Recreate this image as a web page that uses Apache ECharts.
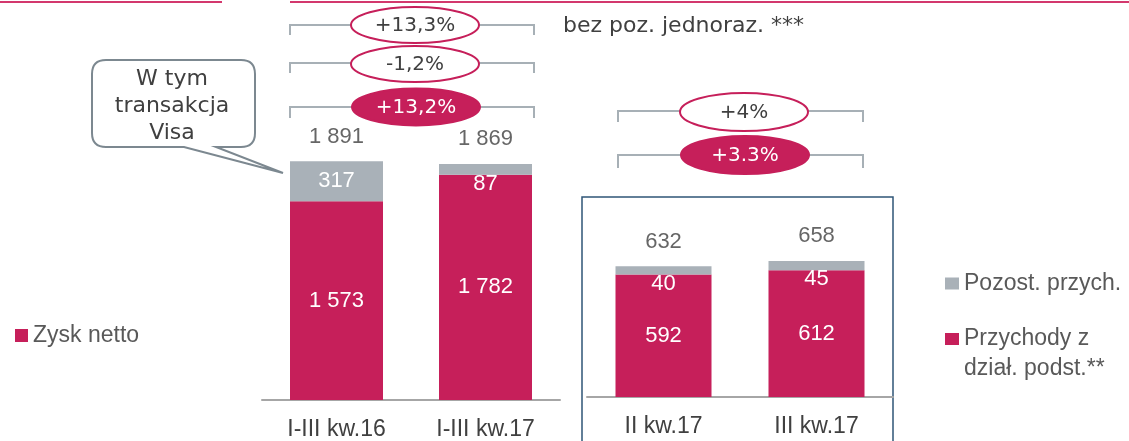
<!DOCTYPE html>
<html>
<head>
<meta charset="utf-8">
<script src="https://cdn.jsdelivr.net/npm/echarts@6/dist/echarts.min.js"></script>
<style>
  html, body { margin: 0; padding: 0; background: #fff; }
  #chart { width: 1129px; height: 441px; }
</style>
</head>
<body>
<div id="chart"></div>
<script>
// I-III kwartał (ytd)
var categoriesYtd = ['I-III kw.16', 'I-III kw.17'];
var netProfitYtd = [1573, 1782];
var oneOffYtd = [317, 87];
var totalsYtd = [1891, 1869];
var changesYtd = ['+13,3%', '-1,2%', '+13,2%'];

// kwartały
var categoriesQ = ['II kw.17', 'III kw.17'];
var coreIncomeQ = [592, 612];
var otherIncomeQ = [40, 45];
var totalsQ = [632, 658];
var changesQ = ['+4%', '+3.3%'];

var RED = '#c61f5a';
var GREY = '#a9b1b8';
var TXT = '#404040';
var NUM_FONT = '"Liberation Sans", Arial, sans-serif';
var DECO_FONT = '"DejaVu Sans", sans-serif';

// kształty do adnotacji (dymek + owal)
echarts.graphic.registerShape('calloutBox', echarts.graphic.extendPath(
  'M106 60 L241 60 Q255 60 255 74 L255 133 Q255 147 241 147 L216 147 L283 173 L184 147 L106 147 Q92 147 92 133 L92 74 Q92 60 106 60 Z'
));
echarts.graphic.registerShape('oval', echarts.graphic.extendShape({
  shape: { cx: 0, cy: 0, rx: 0, ry: 0 },
  buildPath: function (ctx, s) {
    var k = 0.5522848;
    var ox = s.rx * k, oy = s.ry * k;
    ctx.moveTo(s.cx - s.rx, s.cy);
    ctx.bezierCurveTo(s.cx - s.rx, s.cy - oy, s.cx - ox, s.cy - s.ry, s.cx, s.cy - s.ry);
    ctx.bezierCurveTo(s.cx + ox, s.cy - s.ry, s.cx + s.rx, s.cy - oy, s.cx + s.rx, s.cy);
    ctx.bezierCurveTo(s.cx + s.rx, s.cy + oy, s.cx + ox, s.cy + s.ry, s.cx, s.cy + s.ry);
    ctx.bezierCurveTo(s.cx - ox, s.cy + s.ry, s.cx - s.rx, s.cy + oy, s.cx - s.rx, s.cy);
    ctx.closePath();
  }
}));

function fmt(v) {
  return String(v).replace(/\B(?=(\d{3})+(?!\d))/g, ' ');
}

// small grey segments get their label just below the segment
function greyItems(vals, totals) {
  return vals.map(function (v, i) {
    if (v / totals[i] < 0.1) {
      return { value: v, label: { position: 'bottom', distance: -2 } };
    }
    return v;
  });
}

function bracket(x1, x2, y, drop) {
  return {
    type: 'polyline',
    shape: { points: [[x1, y + drop], [x1, y], [x2, y], [x2, y + drop]] },
    style: { stroke: '#a7b0b6', lineWidth: 2, fill: null },
    z: 10
  };
}

function bubble(cx, cy, ry, text, filled) {
  return [{
    type: 'oval',
    shape: { cx: cx, cy: cy, rx: 64, ry: ry },
    style: { fill: filled ? RED : '#fff', stroke: RED, lineWidth: 2 },
    z: 11
  }, {
    type: 'text',
    x: cx, y: cy + 1,
    style: {
      text: text, fill: filled ? '#fff' : TXT, font: '20px ' + DECO_FONT,
      align: 'center', verticalAlign: 'middle', textAlign: 'center', textVerticalAlign: 'middle'
    },
    z: 12
  }];
}

var graphics = [
  { type: 'line', shape: { x1: 0, y1: 2, x2: 222, y2: 2 }, style: { stroke: '#d3386d', lineWidth: 2 } },
  { type: 'line', shape: { x1: 290, y1: 2, x2: 1129, y2: 2 }, style: { stroke: '#d3386d', lineWidth: 2 } },
  // ramka wokół kwartałów
  { type: 'rect', shape: { x: 582, y: 197, width: 311, height: 260 }, style: { fill: null, stroke: '#2f5577', lineWidth: 1.5 } },
  // dymek
  { type: 'calloutBox', style: { fill: '#fff', stroke: '#7c8890', lineWidth: 2 }, z: 10 },
  {
    type: 'text', x: 172, y: 106,
    style: {
      text: 'W tym\ntransakcja\nVisa', fill: TXT, font: '22px ' + DECO_FONT, lineHeight: 27,
      align: 'center', verticalAlign: 'middle', textAlign: 'center', textVerticalAlign: 'middle'
    },
    z: 11
  },
  {
    type: 'text', x: 563, y: 26,
    style: {
      text: 'bez poz. jednoraz. ***', fill: TXT, font: '22px ' + DECO_FONT,
      align: 'left', verticalAlign: 'middle', textAlign: 'left', textVerticalAlign: 'middle'
    }
  },
  bracket(290, 534, 25, 10),
  bracket(290, 534, 63, 10),
  bracket(290, 534, 107, 11),
  bracket(618, 863, 111, 11),
  bracket(618, 863, 155, 13)
]
  .concat(bubble(415, 25, 18, changesYtd[0], false))
  .concat(bubble(415, 64, 18, changesYtd[1], false))
  .concat(bubble(416, 107, 18.5, changesYtd[2], true))
  .concat(bubble(744, 112, 19, changesQ[0], false))
  .concat(bubble(745, 155, 19, changesQ[1], true));

var segLabel = {
  show: true, position: 'inside', color: '#fff', fontSize: 22, fontFamily: NUM_FONT,
  formatter: function (p) { return fmt(p.value); }
};

function totalLabel() {
  return {
    show: true, position: 'top', distance: 13, color: TXT, fontSize: 22, fontFamily: NUM_FONT,
    formatter: function (p) { return fmt(p.value); }
  };
}

var axisCommon = {
  type: 'category',
  axisTick: { show: false },
  axisLine: { lineStyle: { color: '#a6a6a6', width: 2 } },
  axisLabel: { color: TXT, fontSize: 23, fontFamily: NUM_FONT, margin: 18, interval: 0 }
};

var legendText = { color: '#595959', fontSize: 23, fontFamily: NUM_FONT };

var chart = echarts.init(document.getElementById('chart'));
chart.setOption({
  animation: false,
  grid: [
    { left: 262, width: 298, top: 21, height: 379 },
    { left: 587, width: 306, top: 190, height: 207 }
  ],
  xAxis: [
    Object.assign({ gridIndex: 0, data: categoriesYtd }, axisCommon),
    Object.assign({ gridIndex: 1, data: categoriesQ }, axisCommon)
  ],
  yAxis: [
    { gridIndex: 0, type: 'value', min: 0, max: 3000, show: false, splitLine: { show: false } },
    { gridIndex: 1, type: 'value', min: 0, max: 1000, show: false, splitLine: { show: false } }
  ],
  legend: [
    {
      data: ['Zysk netto'], left: 15, top: 324, padding: 0, icon: 'rect', itemWidth: 13, itemHeight: 13,
      textStyle: legendText
    },
    {
      data: ['Pozost. przych.'], left: 945, top: 272, padding: 0, icon: 'rect', itemWidth: 14, itemHeight: 12,
      textStyle: legendText
    },
    {
      // pusta pierwsza linia, żeby kwadrat stał przy pierwszym wierszu tekstu
      data: ['Przychody z dział. podst.**'], left: 945, top: 294, padding: 0, icon: 'rect', itemWidth: 14, itemHeight: 12,
      formatter: function (n) { return '\n' + n.replace(' dział', '\ndział'); },
      textStyle: Object.assign({ lineHeight: 30 }, legendText)
    }
  ],
  series: [
    {
      name: 'Zysk netto', type: 'bar', stack: 'ytd', xAxisIndex: 0, yAxisIndex: 0,
      barWidth: 93, data: netProfitYtd, itemStyle: { color: RED }, label: segLabel
    },
    {
      name: 'Transakcja Visa', type: 'bar', stack: 'ytd', xAxisIndex: 0, yAxisIndex: 0,
      barWidth: 93, data: greyItems(oneOffYtd, totalsYtd), itemStyle: { color: GREY }, label: segLabel
    },
    {
      name: 'Suma ytd', type: 'scatter', xAxisIndex: 0, yAxisIndex: 0, symbolSize: 1,
      data: totalsYtd, itemStyle: { color: 'transparent' }, label: totalLabel()
    },
    {
      name: 'Przychody z dział. podst.**', type: 'bar', stack: 'q', xAxisIndex: 1, yAxisIndex: 1,
      barWidth: 96, data: coreIncomeQ, itemStyle: { color: RED }, label: segLabel
    },
    {
      name: 'Pozost. przych.', type: 'bar', stack: 'q', xAxisIndex: 1, yAxisIndex: 1,
      barWidth: 96, data: greyItems(otherIncomeQ, totalsQ), itemStyle: { color: GREY }, label: segLabel
    },
    {
      name: 'Suma q', type: 'scatter', xAxisIndex: 1, yAxisIndex: 1, symbolSize: 1,
      data: totalsQ, itemStyle: { color: 'transparent' }, label: totalLabel()
    }
  ],
  graphic: graphics
});
</script>
</body>
</html>
